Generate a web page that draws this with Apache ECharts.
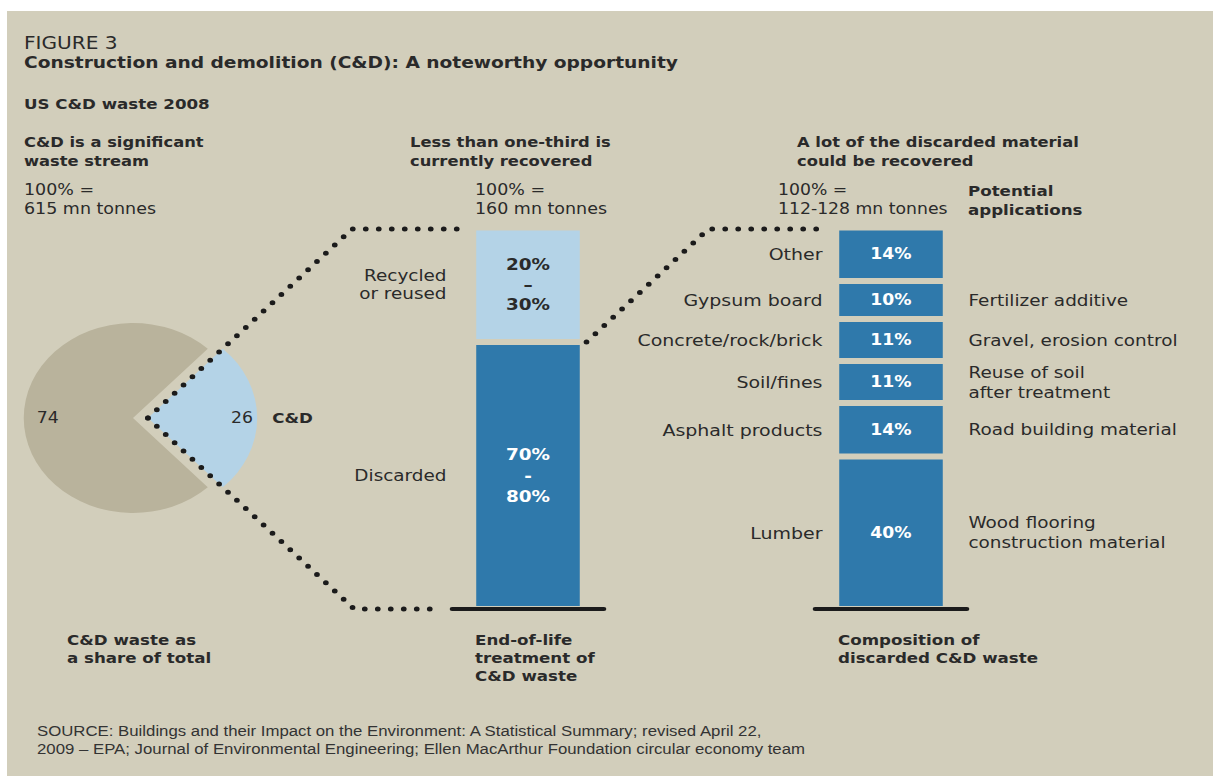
<!DOCTYPE html>
<html>
<head>
<meta charset="utf-8">
<title>Construction and demolition (C&amp;D): A noteworthy opportunity</title>
<script src="https://cdn.jsdelivr.net/npm/echarts/dist/echarts.min.js"></script>
<style>
  html, body { margin: 0; padding: 0; background: #ffffff; width: 1213px; height: 776px; overflow: hidden; }
  #panel { position: absolute; left: 7px; top: 11px; width: 1206px; height: 765px; background: #d2cebb; }
  /* the figure is drawn in a narrower box and widened horizontally */
  #chart { position: absolute; left: 0; top: 0; width: 1055px; height: 776px; transform: scaleX(1.15); transform-origin: 0 0; }
</style>
</head>
<body>
<div id="panel"></div>
<div id="chart"></div>
<script>
// ---- data ----
const wasteShareNames = ['C&D', 'Other waste'];
const wasteShareValues = [26, 74];

const treatmentCategory = ['End-of-life treatment'];
const treatmentNames = ['Discarded', 'Recycled\nor reused'];          // bottom to top
const treatmentValues = [70, 30];
const treatmentRangeLabels = ['70%\n-\n80%', '20%\n–\n30%'];

const compositionCategory = ['Composition'];
const materialNames = ['Lumber', 'Asphalt products', 'Soil/fines', 'Concrete/rock/brick', 'Gypsum board', 'Other']; // bottom to top
const materialShares = [40, 14, 11, 11, 10, 14];
const applicationNames = ['Wood flooring\nconstruction material', 'Road building material', 'Reuse of soil\nafter treatment',
  'Gravel, erosion control', 'Fertilizer additive', ''];

const sourceLines = [
  'SOURCE: Buildings and their Impact on the Environment: A Statistical Summary; revised April 22,',
  '2009 – EPA; Journal of Environmental Engineering; Ellen MacArthur Foundation circular economy team'
];

// ---- look ----
const S = 1.15;                     // horizontal stretch of the drawing box
const X = v => v / S;               // page x -> drawing x
const BG = '#d2cebb';
const INK = '#2a2a2a';
const DARK_BLUE = '#2f79ab';
const LIGHT_BLUE = '#b4d3e7';
const TAUPE = '#b9b39c';
const DOT = '#1b1b1b';
const FONT = '"DejaVu Sans", sans-serif';
const SOURCE_FONT = '"Liberation Sans", Arial, sans-serif';

const PIE_CENTER = [X(133), 418];
const PIE_R = 95;
const PIE_OFFSET = 13;
const BAR_TOP = 227.5;
const BAR_H = 381.5;
const BORDER = 3;
const BAR_W = X(107) + BORDER;
const GRID_W = X(152);
const GRID_LEFT = [X(452), X(815)];

const chart = echarts.init(document.getElementById('chart'), null, { renderer: 'svg' });

const shareSum = wasteShareValues.reduce((a, b) => a + b, 0);
const halfAngle = wasteShareValues[0] / shareSum * 180;   // C&D slice centred on the right

function barSeries(name, value, color, stack, axis, labelText, labelColor, size, lh) {
  return {
    type: 'bar', name, stack, xAxisIndex: axis, yAxisIndex: axis,
    data: [value], barWidth: BAR_W, silent: true,
    emphasis: { disabled: true },
    itemStyle: { color, borderColor: BG, borderWidth: BORDER },
    label: {
      show: true, position: 'inside', formatter: labelText,
      color: labelColor, fontWeight: 'bold', fontSize: size, fontFamily: FONT, lineHeight: lh
    }
  };
}

const series = [
  {
    type: 'pie', center: PIE_CENTER, radius: PIE_R,
    startAngle: halfAngle, clockwise: true,
    selectedMode: 'single', selectedOffset: PIE_OFFSET,
    silent: true, emphasis: { disabled: true },
    avoidLabelOverlap: false,
    data: wasteShareNames.map((n, i) => ({
      name: n, value: wasteShareValues[i], selected: i === 0,
      itemStyle: { color: i === 0 ? LIGHT_BLUE : TAUPE }
    })),
    label: { show: true, position: 'inside', formatter: '{c}', color: INK, fontSize: 15, fontFamily: FONT },
    labelLine: { show: false },
    // numbers sit near the rim of each slice, on the horizontal through the centre
    labelLayout: p => (p.dataIndex === 0
      ? { dx: 0.33 * PIE_R }
      : { x: PIE_CENTER[0] - 0.78 * PIE_R, y: PIE_CENTER[1], align: 'center', verticalAlign: 'middle' })
  }
];
treatmentNames.forEach((n, i) => {
  series.push(barSeries(n, treatmentValues[i], i === 0 ? DARK_BLUE : LIGHT_BLUE, 'eol', 0,
    treatmentRangeLabels[i], i === 0 ? '#ffffff' : INK, 16, i === 0 ? 21 : 20));
});
materialNames.forEach((n, i) => {
  series.push(barSeries(n, materialShares[i], DARK_BLUE, 'comp', 1, '{c}%', '#ffffff', 15, 18));
});

chart.setOption({
  animation: false,
  grid: GRID_LEFT.map(l => ({ left: l, width: GRID_W, top: BAR_TOP, height: BAR_H })),
  xAxis: [treatmentCategory, compositionCategory].map((cats, i) => ({
    type: 'category', gridIndex: i, data: cats, z: 3,
    axisLabel: { show: false }, axisTick: { show: false },
    axisLine: { show: true, lineStyle: { color: DOT, width: 4 } }
  })),
  yAxis: [0, 1].map(i => ({ type: 'value', gridIndex: i, min: 0, max: 100, show: false })),
  series
});

// ---- text and connectors placed from the axes ----
function txt(x, y, text, size, opts = {}) {
  return {
    type: 'text', x, y, silent: true, z: 20,
    style: {
      text, fill: opts.color || INK,
      fontSize: size, fontWeight: opts.bold ? 'bold' : 'normal',
      fontFamily: opts.family || FONT,
      textAlign: opts.align || 'left',
      textVerticalAlign: opts.valign || 'middle',
      lineHeight: opts.lh || Math.round(size * 1.25)
    }
  };
}
function dots(points) {
  return {
    type: 'polyline', silent: true, z: 15,
    shape: { points },
    style: { stroke: DOT, fill: null, lineWidth: 5, lineCap: 'round', lineJoin: 'round', lineDash: [0, 11.3] }
  };
}

const yTop = chart.convertToPixel({ yAxisIndex: 0 }, 100) + BORDER / 2;
const yBase = chart.convertToPixel({ yAxisIndex: 0 }, 0);
const bar2Cx = chart.convertToPixel({ xAxisIndex: 0 }, treatmentCategory[0]);
const bar3Cx = chart.convertToPixel({ xAxisIndex: 1 }, compositionCategory[0]);
const visHalf = (BAR_W - BORDER) / 2;
const bar2L = bar2Cx - visHalf, bar2R = bar2Cx + visHalf;
const bar3L = bar3Cx - visHalf, bar3R = bar3Cx + visHalf;
const tanHalf = Math.tan(halfAngle * Math.PI / 180);
const apex = [PIE_CENTER[0] + PIE_OFFSET, PIE_CENTER[1]];

const yDiscardedTop = chart.convertToPixel({ yAxisIndex: 0 }, treatmentValues[0]);
const start2 = [bar2R + X(5), yDiscardedTop];

const g = [
  dots([apex, [apex[0] + (apex[1] - yTop) / tanHalf, yTop], [bar2L - X(17), yTop]]),
  dots([apex, [apex[0] + (yBase - apex[1]) / tanHalf, yBase], [GRID_LEFT[0] - X(10), yBase]]),
  dots([start2, [start2[0] + (start2[1] - yTop) / tanHalf, yTop], [bar3L - X(14), yTop]]),

  txt(X(24), 43, 'FIGURE 3', 17.5),
  txt(X(24), 62, 'Construction and demolition (C&D): A noteworthy opportunity', 16.2, { bold: true }),
  txt(X(24), 104, 'US C&D waste 2008', 14.5, { bold: true }),

  txt(X(24), 132.5, 'C&D is a significant\nwaste stream', 14.2, { bold: true, valign: 'top', lh: 19 }),
  txt(X(410), 132.5, 'Less than one-third is\ncurrently recovered', 14.2, { bold: true, valign: 'top', lh: 19 }),
  txt(X(797), 132.5, 'A lot of the discarded material\ncould be recovered', 14.2, { bold: true, valign: 'top', lh: 19 }),

  txt(X(24), 180.5, '100% =\n615 mn tonnes', 15.2, { valign: 'top', lh: 19 }),
  txt(X(475), 180.5, '100% =\n160 mn tonnes', 15.2, { valign: 'top', lh: 19 }),
  txt(X(778), 180.5, '100% =\n112-128 mn tonnes', 15, { valign: 'top', lh: 19 }),
  txt(X(968), 181.5, 'Potential\napplications', 14.5, { bold: true, valign: 'top', lh: 19 }),

  txt(apex[0] + PIE_R + X(15), PIE_CENTER[1], wasteShareNames[0], 14.5, { bold: true }),

  txt(X(67), 631, 'C&D waste as\na share of total', 14.5, { bold: true, valign: 'top', lh: 18 }),
  txt(X(475), 631, 'End-of-life\ntreatment of\nC&D waste', 14.5, { bold: true, valign: 'top', lh: 18 }),
  txt(X(838), 631, 'Composition of\ndiscarded C&D waste', 14.5, { bold: true, valign: 'top', lh: 18 })
];

// source note, one text per line
sourceLines.forEach((line, i) => {
  g.push(txt(X(37), 731 + i * 17.5, line, 14.6, { family: SOURCE_FONT, color: '#333333', lh: 16 }));
});

// treatment names beside the first bar
let cum = 0;
treatmentValues.forEach((v, i) => {
  const y = chart.convertToPixel({ yAxisIndex: 0 }, cum + v / 2);
  cum += v;
  g.push(txt(bar2L - X(28), y, treatmentNames[i], 16, { align: 'right', lh: 18 }));
});

// material names and their applications beside the second bar
cum = 0;
materialShares.forEach((v, i) => {
  const y = chart.convertToPixel({ yAxisIndex: 1 }, cum + v / 2);
  cum += v;
  g.push(txt(bar3L - X(15), y, materialNames[i], 16.5, { align: 'right' }));
  if (applicationNames[i]) g.push(txt(bar3R + X(24), y, applicationNames[i], 16, { lh: 20 }));
});

chart.setOption({ graphic: { elements: g } });
</script>
</body>
</html>
